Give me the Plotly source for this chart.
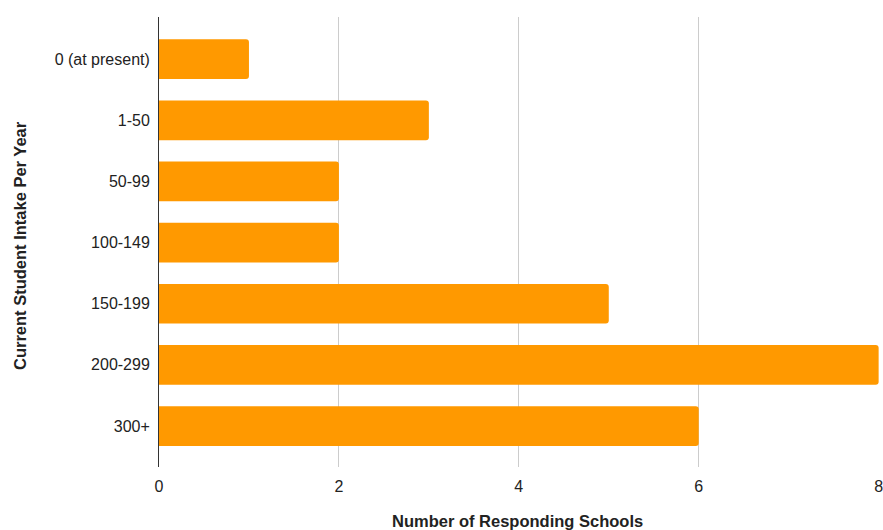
import plotly.graph_objects as go

# Survey results: current student intake per year vs number of schools
intake_bands = ["0 (at present)", "1-50", "50-99", "100-149", "150-199", "200-299", "300+"]
school_counts = [1, 3, 2, 2, 5, 8, 6]
x_ticks = [0, 2, 4, 6, 8]

FONT = "Liberation Sans, Arial, sans-serif"
TEXT = "#222222"
SIZE = 16
TITLE_SIZE = 16.5

fig = go.Figure(
    go.Bar(
        x=school_counts,
        y=intake_bands,
        orientation="h",
        marker=dict(color="#FF9900", line=dict(width=0)),
        width=0.65,
    )
)

fig.update_layout(
    width=883,
    height=530,
    margin=dict(l=159, r=0, t=17, b=63),
    plot_bgcolor="white",
    paper_bgcolor="white",
    showlegend=False,
    barcornerradius=3,
    font=dict(family=FONT, size=SIZE, color=TEXT),
)

fig.update_xaxes(
    range=[0, 8.004],
    tickvals=x_ticks,
    showgrid=True,
    gridcolor="#cccccc",
    gridwidth=1,
    zeroline=False,
    showline=False,
    ticks="outside",
    ticklen=5,
    tickcolor="rgba(0,0,0,0)",
    ticklabeloverflow="allow",
    tickfont=dict(family=FONT, size=SIZE, color=TEXT),
)

fig.update_yaxes(
    type="category",
    categoryorder="array",
    categoryarray=intake_bands,
    range=[6.67, -0.69],
    showgrid=False,
    zeroline=False,
    showline=True,
    linecolor="#333333",
    linewidth=1,
    ticks="outside",
    ticklen=5,
    tickcolor="rgba(0,0,0,0)",
    tickfont=dict(family=FONT, size=SIZE, color=TEXT),
)

fig.add_annotation(
    text="<b>Number of Responding Schools</b>",
    xref="paper", yref="paper", x=0.4975, y=0,
    xanchor="center", yanchor="middle", yshift=-54,
    showarrow=False, font=dict(family=FONT, size=TITLE_SIZE, color=TEXT),
)
fig.add_annotation(
    text="<b>Current Student Intake Per Year</b>",
    xref="paper", yref="paper", x=0, y=0.5,
    xanchor="center", yanchor="middle", xshift=-139, yshift=-4, textangle=-90,
    showarrow=False, font=dict(family=FONT, size=TITLE_SIZE, color=TEXT),
)

fig.write_html("out.html")
